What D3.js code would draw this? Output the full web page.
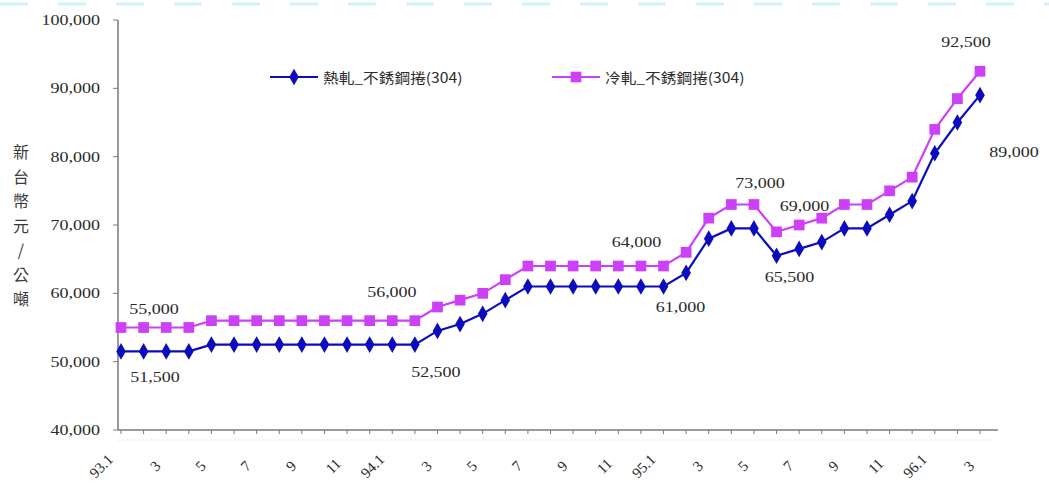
<!DOCTYPE html>
<html>
<head>
<meta charset="utf-8">
<script src="https://cdn.jsdelivr.net/npm/d3@7"></script>
<style>
  body { margin: 0; background: #fff; }
  svg { display: block; }
</style>
</head>
<body>
<svg id="chart" width="1049" height="486"></svg>
<script>
// Monthly stainless coil prices (NT$ per tonne), ROC years 93.1 – 96.3
const months = [
  "93.1","93.2","93.3","93.4","93.5","93.6","93.7","93.8","93.9","93.10","93.11","93.12",
  "94.1","94.2","94.3","94.4","94.5","94.6","94.7","94.8","94.9","94.10","94.11","94.12",
  "95.1","95.2","95.3","95.4","95.5","95.6","95.7","95.8","95.9","95.10","95.11","95.12",
  "96.1","96.2","96.3"
];
const tickLabels = ["93.1","3","5","7","9","11","94.1","3","5","7","9","11",
                    "95.1","3","5","7","9","11","96.1","3"];
const hotRolled = [
  51500,51500,51500,51500,52500,52500,52500,52500,52500,52500,52500,52500,52500,52500,
  54500,55500,57000,59000,61000,61000,61000,61000,61000,61000,61000,
  63000,68000,69500,69500,65500,66500,67500,69500,69500,71500,73500,80500,85000,89000
];
const coldRolled = [
  55000,55000,55000,55000,56000,56000,56000,56000,56000,56000,56000,56000,56000,56000,
  58000,59000,60000,62000,64000,64000,64000,64000,64000,64000,64000,
  66000,71000,73000,73000,69000,70000,71000,73000,73000,75000,77000,84000,88500,92500
];
const seriesNames = ["熱軋_不銹鋼捲(304)", "冷軋_不銹鋼捲(304)"];
const yTicks = [40000,50000,60000,70000,80000,90000,100000];
const yTitle = ["新","台","幣","元","/","公","噸"];

// value labels: month index, offset from the marker
const hotLabels  = [[0, 34, 31], [13, 21, 32], [24, 17, 25], [29, 13, 26], [38, 34, 62]];
const coldLabels = [[0, 33, -14], [13, -23, -24], [24, -27, -19], [28, 6, -17], [29, 28, -21], [38, -14, -24]];

const blue = "#0c0cbe";
const pink = "#cc40f6";
const textColor = "#2a2a2a";
const serif = "'Liberation Serif', 'Times New Roman', serif";
const cjk = "'Noto Sans CJK TC', 'Noto Sans CJK SC', sans-serif";
const fmt = d3.format(",");

const svg = d3.select("#chart");

const axisLeft = 118, axisRight = 998, axisTop = 20, axisBottom = 430;
const x = d3.scalePoint().domain(months).range([121, 980]);
const y = d3.scaleLinear().domain([40000, 100000]).range([axisBottom, axisTop]);

// faint dotted frame remnants
svg.append("line")
  .attr("x1", 0).attr("x2", 1049).attr("y1", 4).attr("y2", 4)
  .attr("stroke", "#d2f4f8").attr("stroke-width", 3)
  .attr("stroke-dasharray", "28,30");
svg.append("line")
  .attr("x1", axisLeft).attr("x2", axisRight).attr("y1", 440).attr("y2", 440)
  .attr("stroke", "#f3dede").attr("stroke-width", 1)
  .attr("stroke-dasharray", "2,2");

// y axis
svg.append("line")
  .attr("x1", axisLeft).attr("x2", axisLeft).attr("y1", axisTop).attr("y2", axisBottom)
  .attr("stroke", "#7a7a7a").attr("stroke-width", 1.5);
svg.selectAll(".ytick").data(yTicks).join("line")
  .attr("x1", axisLeft - 5).attr("x2", axisLeft)
  .attr("y1", d => y(d)).attr("y2", d => y(d))
  .attr("stroke", "#7a7a7a");
svg.selectAll(".ylab").data(yTicks).join("text")
  .attr("transform", d => `translate(100,${y(d) + 5}) scale(1.2,1)`)
  .attr("text-anchor", "end")
  .attr("font-family", serif).attr("font-size", 15)
  .attr("fill", textColor)
  .text(d => fmt(d));

// x axis
svg.append("line")
  .attr("x1", axisLeft).attr("x2", axisRight).attr("y1", axisBottom).attr("y2", axisBottom)
  .attr("stroke", "#7a7a7a").attr("stroke-width", 1.5);
svg.selectAll(".xtick").data(months).join("line")
  .attr("x1", d => x(d)).attr("x2", d => x(d))
  .attr("y1", axisBottom).attr("y2", axisBottom + 4)
  .attr("stroke", "#7a7a7a");
const labelled = months.filter((m, i) => i % 2 === 0);
svg.selectAll(".xlab").data(labelled).join("text")
  .attr("transform", (d, i) =>
    `translate(${x(d) - 8 - 3 * tickLabels[i].length},466) rotate(-45)`)
  .attr("text-anchor", "middle")
  .attr("dy", "0.35em")
  .attr("font-family", serif).attr("font-size", 15)
  .attr("fill", textColor)
  .text((d, i) => tickLabels[i]);

// y title, stacked characters
svg.selectAll(".ytitle").data(yTitle).join("text")
  .attr("x", 21).attr("y", (d, i) => 158 + i * 24.5)
  .attr("text-anchor", "middle")
  .attr("font-family", cjk).attr("font-size", 16)
  .attr("fill", "#3a3a3a")
  .text(d => d);

// series lines and markers
const line = d3.line().x((d, i) => x(months[i])).y(d => y(d));
const diamond = d3.symbol().type(d3.symbolDiamond).size(80);
const square = d3.symbol().type(d3.symbolSquare).size(115);

function drawSeries(values, color, symbol) {
  svg.append("path").datum(values)
    .attr("d", line).attr("fill", "none")
    .attr("stroke", color).attr("stroke-width", 2.2);
  svg.append("g").selectAll("path").data(values).join("path")
    .attr("d", symbol)
    .attr("transform", (d, i) => `translate(${x(months[i])},${y(d)})`)
    .attr("fill", color);
}
drawSeries(coldRolled, pink, square);
drawSeries(hotRolled, blue, diamond);

// value labels
function drawLabels(values, specs) {
  svg.append("g").selectAll("text").data(specs).join("text")
    .attr("transform", ([i, dx, dy]) => `translate(${x(months[i]) + dx},${y(values[i]) + dy}) scale(1.2,1)`)
    .attr("text-anchor", "middle")
    .attr("font-family", serif).attr("font-size", 15)
    .attr("fill", textColor)
    .text(([i]) => fmt(values[i]));
}
drawLabels(coldRolled, coldLabels);
drawLabels(hotRolled, hotLabels);

// legend
const legend = [
  { name: seriesNames[0], color: blue, symbol: diamond, x: 270 },
  { name: seriesNames[1], color: pink, symbol: square, x: 552 }
];
const lg = svg.append("g").selectAll("g").data(legend).join("g")
  .attr("transform", d => `translate(${d.x},77)`);
lg.append("line").attr("x1", 0).attr("x2", 48)
  .attr("stroke", d => d.color).attr("stroke-width", 2.2);
lg.append("path").attr("d", d => d.symbol())
  .attr("transform", "translate(24,0)").attr("fill", d => d.color);
lg.append("text")
  .attr("transform", "translate(53,6) scale(1.12,1)")
  .attr("font-family", cjk).attr("font-size", 14)
  .attr("fill", textColor)
  .text(d => d.name);
</script>
</body>
</html>
